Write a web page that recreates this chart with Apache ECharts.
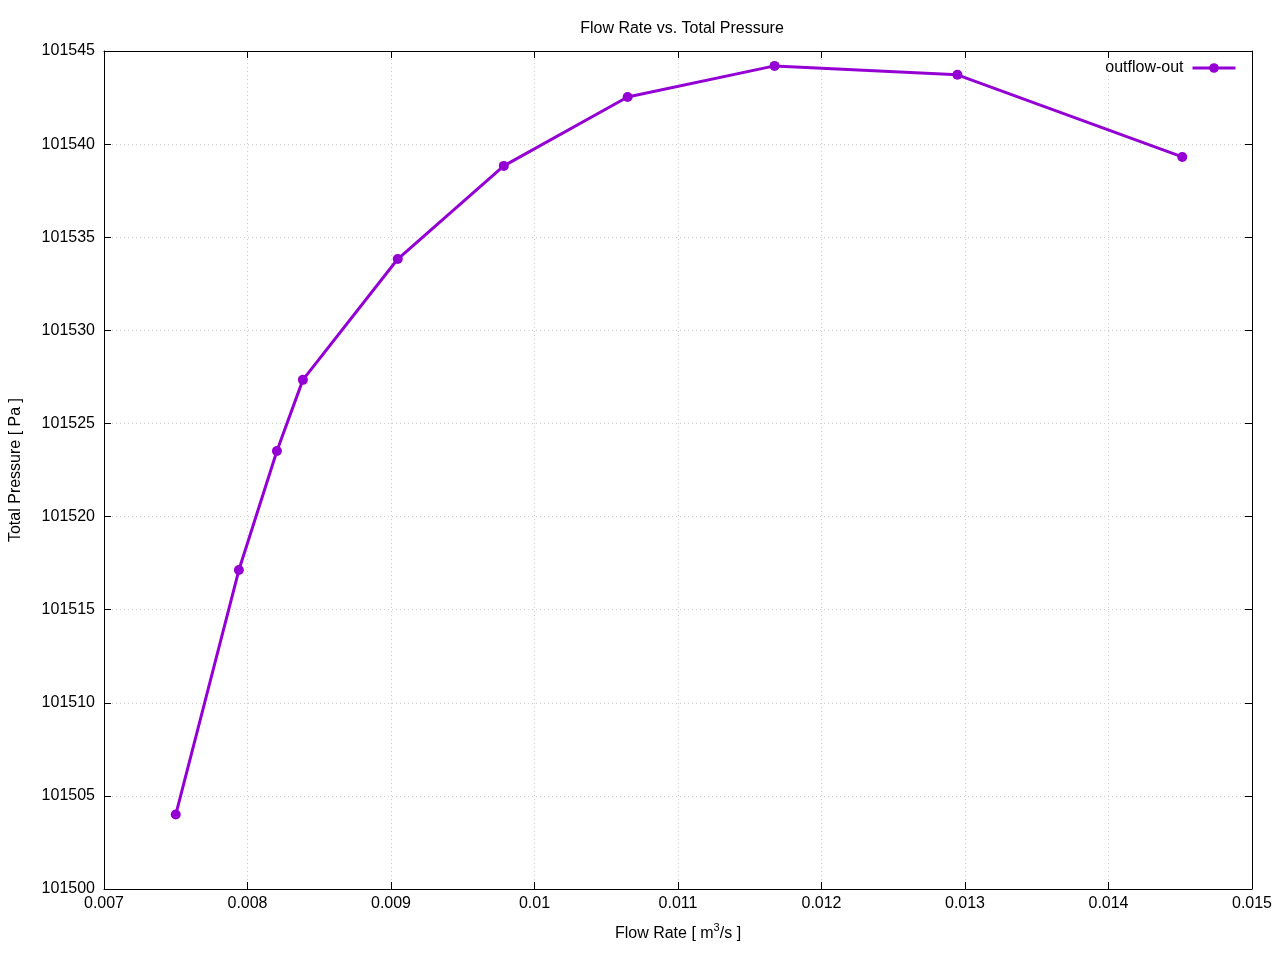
<!DOCTYPE html>
<html><head><meta charset="utf-8">
<script src="https://cdn.jsdelivr.net/npm/echarts@6/dist/echarts.min.js"></script>
<style>html,body{margin:0;padding:0;background:#fff}#c{width:1280px;height:960px}</style>
</head><body><div id="c"></div>
<script>
const flowRate = [0.00750, 0.00794, 0.008205, 0.008386, 0.009047, 0.009786, 0.010649, 0.011673, 0.012947, 0.014514];
const totalPressure = [101504.0, 101517.13, 101523.52, 101527.34, 101533.83, 101538.83, 101542.53, 101544.2, 101543.72, 101539.31];
const seriesName = 'outflow-out';
const xMin = 0.007, xMax = 0.015, xStep = 0.001;
const yMin = 101500, yMax = 101545, yStep = 5;

const FONT = 'Liberation Sans, Arial, sans-serif';
const FS = 16;
const chart = echarts.init(document.getElementById('c'));
const tick = {show: true, inside: true, length: 7, lineStyle: {color: '#000', width: 1}};
const line = {show: true, onZero: false, lineStyle: {color: '#000', width: 1}};
const grid = {show: true, lineStyle: {color: '#cccccc', type: [1, 3], width: 1}};
chart.setOption({
  animation: false,
  textStyle: {fontFamily: FONT},
  title: {text: 'Flow Rate vs. Total Pressure', left: 677, top: 16, textAlign: 'center',
    textStyle: {fontSize: FS, fontWeight: 'normal', color: '#000', fontFamily: FONT}},
  legend: {right: 38, top: 55, align: 'right', itemWidth: 43, itemHeight: 12, itemGap: 0,
    lineStyle: {width: 3}, itemStyle: {color: '#9400d3'},
    textStyle: {fontSize: FS, color: '#000', fontFamily: FONT, padding: [0, 4, 0, 0]},
    data: [seriesName]},
  grid: {left: 103, right: 28, top: 51, bottom: 71, containLabel: false},
  xAxis: [{
    type: 'value', min: xMin, max: xMax, interval: xStep, position: 'bottom',
    axisLine: line, axisTick: tick, splitLine: grid,
    axisLabel: {fontSize: FS, color: '#000', margin: 7, fontFamily: FONT,
      formatter: v => String(parseFloat(v.toFixed(4)))},
    name: '{a|Flow Rate [ m}{s|3}{a|/s ]}', nameLocation: 'middle', nameGap: 33,
    nameTextStyle: {rich: {
      a: {fontSize: FS, color: '#000', fontFamily: FONT, lineHeight: 20, verticalAlign: 'bottom'},
      s: {fontSize: 11, color: '#000', fontFamily: FONT, lineHeight: 20, verticalAlign: 'top'}}}
  }, {
    type: 'value', min: xMin, max: xMax, interval: xStep, position: 'top',
    axisLine: line, axisTick: tick, splitLine: {show: false}, axisLabel: {show: false}
  }],
  yAxis: [{
    type: 'value', min: yMin, max: yMax, interval: yStep, position: 'left',
    axisLine: line, axisTick: tick, splitLine: grid,
    axisLabel: {fontSize: FS, color: '#000', margin: 9, fontFamily: FONT, formatter: v => String(v)},
    name: 'Total Pressure [ Pa ]', nameLocation: 'middle', nameGap: 80, nameRotate: 90,
    nameTextStyle: {fontSize: FS, color: '#000', fontFamily: FONT}
  }, {
    type: 'value', min: yMin, max: yMax, interval: yStep, position: 'right',
    axisLine: line, axisTick: tick, splitLine: {show: false}, axisLabel: {show: false}
  }],
  series: [{
    name: seriesName, type: 'line', xAxisIndex: 0, yAxisIndex: 0,
    data: flowRate.map((x, i) => [x, totalPressure[i]]),
    symbol: 'circle', symbolSize: 10, showAllSymbol: true,
    lineStyle: {color: '#9400d3', width: 3},
    itemStyle: {color: '#9400d3'}
  }]
});
</script></body></html>
